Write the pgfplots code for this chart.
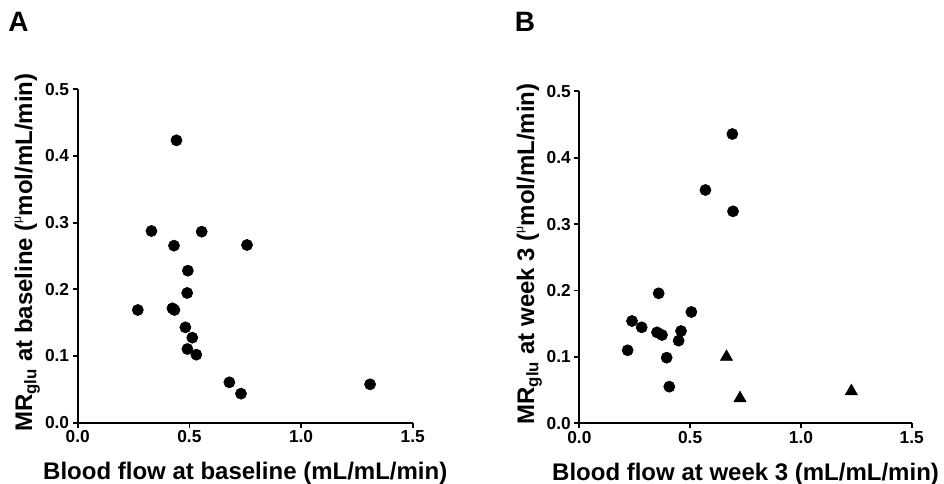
\documentclass[border=0pt]{standalone}
\usepackage{fontspec}
\setmainfont{Liberation Sans}
\usepackage{pgfplots}
\pgfplotsset{compat=1.18}

\newcommand{\mumark}{{\mdseries\fontsize{9.2}{9.2}\selectfont\raisebox{8.1pt}{μ}}}

\pgfplotsset{
  panel/.style={
    scale only axis,
    anchor=south west,
    xmin=0, xmax=1.5, ymin=0, ymax=0.5,
    axis x line*=bottom, axis y line*=left,
    axis line style={-, line width=1.3pt, black},
    xtick={0,0.5,1,1.5},
    ytick={0,0.1,0.2,0.3,0.4,0.5},
    minor tick num=0,
    tick align=outside,
    major tick length=3.75pt,
    tick style={line width=1.3pt, black},
    /pgf/number format/assume math mode=true,
    /pgf/number format/fixed,
    /pgf/number format/fixed zerofill,
    /pgf/number format/precision=1,
    ticklabel style={font=\bfseries\fontsize{13}{14}\selectfont},
    xticklabel style={inner sep=2pt},
    yticklabel style={inner sep=2.5pt},
    label style={font=\bfseries\fontsize{18}{20}\selectfont},
    clip=false,
  },
  dots/.style={only marks, mark=*, mark size=4.2pt, black, mark options={draw=black, fill=black}},
  tris/.style={only marks, mark=triangle*, mark size=5.3pt, black, mark options={draw=black, fill=black}},
}

\begin{document}
\begin{tikzpicture}
\path[use as bounding box] (0,0) rectangle (708pt,363pt);

\node[anchor=base west, font=\bfseries\fontsize{21}{24}\selectfont, inner sep=0pt] at (6pt,339pt) {A};
\node[anchor=base west, font=\bfseries\fontsize{21}{24}\selectfont, inner sep=0pt] at (386pt,339pt) {B};

\begin{axis}[panel,
  at={(58.3pt,46.0pt)},
  width=251.25pt, height=250pt,
  xlabel={Blood flow at baseline (mL/mL/min)},
  ylabel={MR\textsubscript{glu} at baseline (\mumark mol/mL/min)},
  xlabel style={at={(axis description cs:0.5,-0.172)}, anchor=base},
  ylabel style={at={(axis description cs:-0.1364,0.51)}, anchor=base},
]
\addplot[dots] coordinates {
(0.269,0.169) (0.330,0.2875) (0.442,0.4235) (0.431,0.2655) (0.555,0.2865)
(0.758,0.2665) (0.493,0.228) (0.490,0.1945) (0.424,0.1715) (0.433,0.169)
(0.482,0.143) (0.513,0.1275) (0.491,0.1105) (0.531,0.102) (0.679,0.0605)
(0.731,0.0435) (1.309,0.0575)
};
\end{axis}

\begin{axis}[panel,
  at={(434.5pt,45.5pt)},
  width=249.3pt, height=249pt,
  xlabel={Blood flow at week 3 (mL/mL/min)},
  ylabel={MR\textsubscript{glu} at week 3 (\mumark mol/mL/min)},
  xlabel style={at={(axis description cs:0.5,-0.171)}, anchor=base},
  ylabel style={at={(axis description cs:-0.136,0.51)}, anchor=base},
]
\addplot[dots] coordinates {
(0.6905,0.4357) (0.569,0.3514) (0.6935,0.3193) (0.358,0.1958) (0.5055,0.1677)
(0.2377,0.1541) (0.2813,0.1446) (0.3505,0.137) (0.373,0.133) (0.459,0.139)
(0.448,0.1245) (0.218,0.110) (0.394,0.0989) (0.406,0.0552)
};
\addplot[tris] coordinates {
(0.664,0.100) (0.725,0.0378) (1.2275,0.0483)
};
\end{axis}
\end{tikzpicture}
\end{document}
